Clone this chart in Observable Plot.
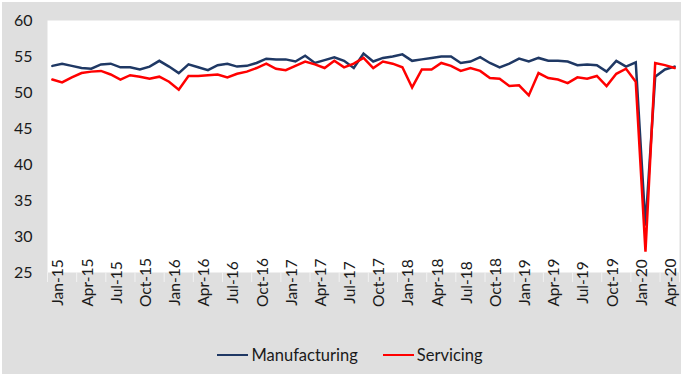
<!DOCTYPE html>
<html>
<head>
<meta charset="utf-8">
<script src="https://cdn.jsdelivr.net/npm/d3@7"></script>
<script src="https://cdn.jsdelivr.net/npm/@observablehq/plot@0.6"></script>
<style>
  html, body { margin: 0; padding: 0; }
  body { width: 681px; height: 374px; background: #dfdfdf; overflow: hidden; font-family: Lato, "Open Sans", sans-serif; }
  #wrap { position: relative; width: 679px; height: 372px; border-top: 2px solid #fff; border-left: 2px solid #fff; }
  #chart svg { display: block; }
  #legend { position: absolute; left: 0; top: 343px; width: 679px; height: 20px; display: flex; justify-content: center; align-items: center; padding-left: 17px; box-sizing: border-box; font-size: 16.5px; color: #1a1a1a; }
  .item { display: flex; align-items: center; }
  .item + .item { margin-left: 25px; }
  .swatch { width: 31px; height: 2.5px; margin-right: 3px; }
</style>
</head>
<body>
<div id="wrap">
  <div id="chart"></div>
  <div id="legend"></div>
</div>
<script>
const months = [
  "Jan-15","Feb-15","Mar-15","Apr-15","May-15","Jun-15","Jul-15","Aug-15","Sep-15","Oct-15","Nov-15","Dec-15",
  "Jan-16","Feb-16","Mar-16","Apr-16","May-16","Jun-16","Jul-16","Aug-16","Sep-16","Oct-16","Nov-16","Dec-16",
  "Jan-17","Feb-17","Mar-17","Apr-17","May-17","Jun-17","Jul-17","Aug-17","Sep-17","Oct-17","Nov-17","Dec-17",
  "Jan-18","Feb-18","Mar-18","Apr-18","May-18","Jun-18","Jul-18","Aug-18","Sep-18","Oct-18","Nov-18","Dec-18",
  "Jan-19","Feb-19","Mar-19","Apr-19","May-19","Jun-19","Jul-19","Aug-19","Sep-19","Oct-19","Nov-19","Dec-19",
  "Jan-20","Feb-20","Mar-20","Apr-20","May-20"
];

const manufacturing = [
  53.7, 54.0, 53.7, 53.4, 53.3, 53.9, 54.0, 53.5, 53.5, 53.2, 53.6, 54.4,
  53.6, 52.7, 53.9, 53.5, 53.1, 53.8, 54.0, 53.6, 53.7, 54.1, 54.7, 54.6,
  54.6, 54.3, 55.1, 54.1, 54.5, 54.9, 54.4, 53.4, 55.4, 54.3, 54.8, 55.0,
  55.3, 54.4, 54.6, 54.8, 55.0, 55.0, 54.1, 54.3, 54.9, 54.1, 53.5, 54.0,
  54.7, 54.3, 54.8, 54.4, 54.4, 54.3, 53.8, 53.9, 53.8, 52.9, 54.4, 53.6,
  54.2, 31.5, 52.2, 53.2, 53.6
];

const servicing = [
  51.8, 51.4, 52.1, 52.7, 52.9, 53.0, 52.5, 51.8, 52.4, 52.2, 51.9, 52.2,
  51.5, 50.4, 52.3, 52.3, 52.4, 52.5, 52.1, 52.6, 52.9, 53.4, 54.0, 53.3,
  53.1, 53.7, 54.3, 53.9, 53.4, 54.4, 53.5, 54.0, 54.8, 53.4, 54.3, 54.0,
  53.5, 50.7, 53.2, 53.2, 54.1, 53.7, 53.0, 53.4, 53.0, 52.0, 51.9, 50.9,
  51.0, 49.6, 52.7, 52.0, 51.8, 51.3, 52.1, 51.9, 52.3, 50.9, 52.6, 53.3,
  51.5, 27.9, 54.1, 53.8, 53.4
];

const seriesNames = ["Manufacturing", "Servicing"];
const seriesColors = ["#1F3864", "#FF0000"];

const xTickLabels = [
  "Jan-15","Apr-15","Jul-15","Oct-15","Jan-16","Apr-16","Jul-16","Oct-16","Jan-17","Apr-17","Jul-17",
  "Oct-17","Jan-18","Apr-18","Jul-18","Oct-18","Jan-19","Apr-19","Jul-19","Oct-19","Jan-20","Apr-20"
];
const yTicks = [25, 30, 35, 40, 45, 50, 55, 60];

const data = [
  ...months.map((m, i) => ({i, month: m, value: manufacturing[i], series: seriesNames[0]})),
  ...months.map((m, i) => ({i, month: m, value: servicing[i], series: seriesNames[1]}))
];

const labelPos = xTickLabels.map(l => months.indexOf(l) + 0.5);
const boundaryPos = xTickLabels.map(l => months.indexOf(l)).concat([months.length]);

const chart = Plot.plot({
  width: 679,
  height: 336,
  marginLeft: 45,
  marginRight: 2,
  marginTop: 18,
  marginBottom: 66,
  style: {fontFamily: "Lato, 'Open Sans', sans-serif", fontSize: "15px", color: "#1a1a1a", background: "transparent", overflow: "visible"},
  x: {type: "linear", domain: [0, months.length]},
  y: {domain: [25, 60]},
  color: {domain: seriesNames, range: seriesColors},
  marks: [
    Plot.frame({fill: "white", stroke: null}),
    Plot.axisX(boundaryPos, {tickSize: 10, stroke: "#f2f2f2", strokeWidth: 1, tickFormat: () => "", label: null}),
    Plot.axisX(labelPos, {tickSize: 0, tickPadding: 10, rotate: -90, fontSize: 15.5, label: null, tickFormat: d => months[Math.round(d - 0.5)]}),
    Plot.axisY(yTicks, {tickSize: 0, tickPadding: 15, fontSize: 16, label: null}),
    Plot.line(data, {x: d => d.i + 0.5, y: "value", z: "series", stroke: "series", strokeWidth: 2.5, strokeLinejoin: "miter", strokeMiterlimit: 10})
  ]
});
document.getElementById("chart").appendChild(chart);

const legend = document.getElementById("legend");
seriesNames.forEach((name, k) => {
  const item = document.createElement("div");
  item.className = "item";
  const sw = document.createElement("span");
  sw.className = "swatch";
  sw.style.background = seriesColors[k];
  const tx = document.createElement("span");
  tx.textContent = name;
  item.appendChild(sw);
  item.appendChild(tx);
  legend.appendChild(item);
});
</script>
</body>
</html>
